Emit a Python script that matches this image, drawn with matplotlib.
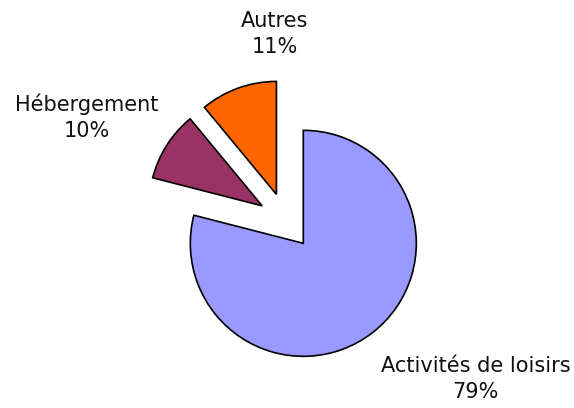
import matplotlib
matplotlib.use("Agg")
import matplotlib.pyplot as plt

# data
categories = ["Activités de loisirs", "Hébergement", "Autres"]
shares = [79, 10, 11]
colors = ["#9999FF", "#993366", "#FF6600"]
explode = [0.25, 0.25, 0.25]

# label positions (data units, pie radius = 1)
label_pos = [(1.68, -1.40), (-1.76, 0.92), (-0.10, 1.655)]

fig = plt.figure(figsize=(5.74, 4.08), dpi=100)
ax = fig.add_axes([0, 0, 1, 1])

ax.pie(shares, colors=colors, explode=explode, startangle=90,
       counterclock=False,
       wedgeprops=dict(edgecolor="black", linewidth=1.2))

for name, val, (x, y) in zip(categories, shares, label_pos):
    ax.text(x, y, f"{name}\n{val}%", ha="center", va="center",
            fontsize=15, family="DejaVu Sans", color="#111111",
            linespacing=1.35)

# map 113 px per unit, pie centre at (286, 221) px from top-left
s = 113.0
ax.set_xlim(-286 / s, (574 - 286) / s)
ax.set_ylim(-(408 - 221) / s, 221 / s)
ax.axis("off")

fig.savefig("out.png", dpi=100)
